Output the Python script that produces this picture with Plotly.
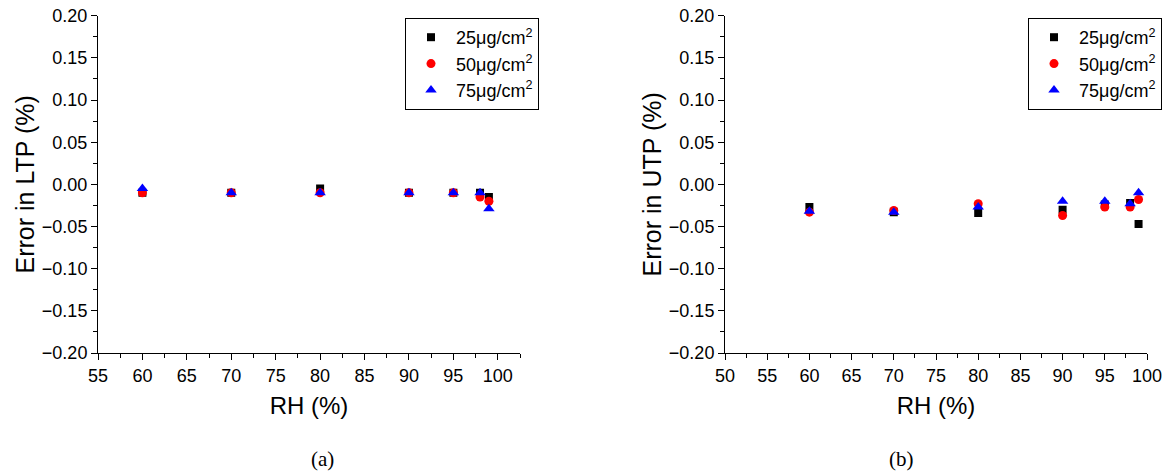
import plotly.graph_objects as go

W, H = 1167, 475

rh = [60, 70, 80, 90, 95, 98, 99]
ltp_25 = [-0.010, -0.010, -0.005, -0.010, -0.010, -0.010, -0.015]
ltp_50 = [-0.010, -0.010, -0.010, -0.010, -0.010, -0.015, -0.020]
ltp_75 = [-0.005, -0.010, -0.010, -0.010, -0.010, -0.010, -0.029]
utp_25 = [-0.027, -0.033, -0.034, -0.030, -0.024, -0.022, -0.047]
utp_50 = [-0.033, -0.031, -0.023, -0.037, -0.027, -0.027, -0.018]
utp_75 = [-0.032, -0.033, -0.027, -0.020, -0.020, -0.023, -0.010]

series_names = ["25\u03bcg/cm<sup>2</sup>", "50\u03bcg/cm<sup>2</sup>", "75\u03bcg/cm<sup>2</sup>"]
symbols = ["square", "circle", "triangle-up"]
colors = ["#000000", "#ff0000", "#0000ff"]
sizes = [8, 9, 10]

FONT = "Liberation Sans, Arial, sans-serif"

fig = go.Figure()
for i, ys in enumerate([ltp_25, ltp_50, ltp_75]):
    fig.add_trace(go.Scatter(x=rh, y=ys, mode="markers", name=series_names[i],
                             marker=dict(symbol=symbols[i], color=colors[i], size=sizes[i], line=dict(width=0)),
                             xaxis="x", yaxis="y", legend="legend"))
for i, ys in enumerate([utp_25, utp_50, utp_75]):
    fig.add_trace(go.Scatter(x=rh, y=ys, mode="markers", name=series_names[i],
                             marker=dict(symbol=symbols[i], color=colors[i], size=sizes[i], line=dict(width=0)),
                             xaxis="x2", yaxis="y2", legend="legend2"))

def px_x(p):
    return p / W

def px_y(p):
    return 1 - p / H

ydom = [px_y(353), px_y(15.7)]

common_axis = dict(showline=True, linecolor="#000000", linewidth=1, showgrid=False, zeroline=False,
                   automargin=False,
                   ticks="outside", ticklen=6, tickwidth=1, tickcolor="#000000",
                   tickfont=dict(family=FONT, size=18, color="#000000"),
                   minor=dict(ticks="outside", ticklen=4, tickwidth=1, tickcolor="#000000", showgrid=False))

legend_common = dict(yanchor="top", xanchor="left", bordercolor="#000000", borderwidth=1, bgcolor="white",
                     font=dict(family=FONT, size=18, color="#000000"), tracegroupgap=0, itemwidth=40)

fig.update_layout(
    width=W, height=H,
    margin=dict(l=0, r=0, t=0, b=0),
    paper_bgcolor="white", plot_bgcolor="white",
    font=dict(family=FONT, color="#000000"),
    xaxis=dict(common_axis, domain=[px_x(98), px_x(520)], range=[55, 102.5], tick0=55, dtick=5,
               minor=dict(common_axis["minor"], dtick=2.5), anchor="y",
               title=dict(text="RH (%)", font=dict(size=24), standoff=12)),
    yaxis=dict(common_axis, domain=ydom, range=[-0.2, 0.2], dtick=0.05, tick0=0, tickformat=".2f",
               minor=dict(common_axis["minor"], dtick=0.025), anchor="x",
               title=dict(text="Error in LTP (%)", font=dict(size=25), standoff=0)),
    xaxis2=dict(common_axis, domain=[px_x(725), px_x(1147)], range=[50, 100], tick0=50, dtick=5,
                minor=dict(common_axis["minor"], dtick=2.5), anchor="y2",
                title=dict(text="RH (%)", font=dict(size=24), standoff=12)),
    yaxis2=dict(common_axis, domain=ydom, range=[-0.2, 0.2], dtick=0.05, tick0=0, tickformat=".2f",
                minor=dict(common_axis["minor"], dtick=0.025), anchor="x2",
                title=dict(text="Error in UTP (%)", font=dict(size=25), standoff=0)),
    legend=dict(legend_common, x=px_x(405), y=px_y(18)),
    legend2=dict(legend_common, x=px_x(1028), y=px_y(18)),
    annotations=[
        dict(text="(a)", x=px_x(322), y=px_y(459), xref="paper", yref="paper", showarrow=False,
             xanchor="center", yanchor="middle",
             font=dict(family="Liberation Serif, Times New Roman, serif", size=21, color="#000000")),
        dict(text="(b)", x=px_x(901), y=px_y(459), xref="paper", yref="paper", showarrow=False,
             xanchor="center", yanchor="middle",
             font=dict(family="Liberation Serif, Times New Roman, serif", size=21, color="#000000")),
    ],
)

fig.write_html("out.html")
